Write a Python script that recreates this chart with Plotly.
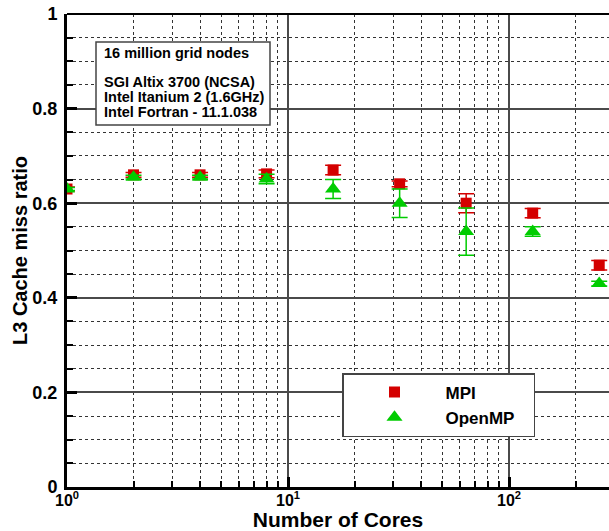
import plotly.graph_objects as go

# Core counts and measured L3 cache miss ratios
cores = [1, 2, 4, 8, 16, 32, 64, 128, 256]
mpi_ratio = [0.63, 0.66, 0.66, 0.662, 0.67, 0.641, 0.60, 0.579, 0.469]
mpi_err = [0.004, 0.005, 0.005, 0.008, 0.01, 0.006, 0.02, 0.01, 0.01]
omp_ratio = [0.63, 0.655, 0.655, 0.651, 0.63, 0.60, 0.54, 0.54, 0.43]
omp_err = [0.003, 0.004, 0.004, 0.01, 0.02, 0.03, 0.05, 0.01, 0.005]

x_tickvals = [1, 10, 100]
x_ticktext = ["10<sup>0</sup>", "10<sup>1</sup>", "10<sup>2</sup>"]
x_minor = [2, 3, 4, 5, 6, 7, 8, 9, 20, 30, 40, 50, 60, 70, 80, 90, 200]
y_tickvals = [0, 0.2, 0.4, 0.6, 0.8, 1]
y_ticktext = ["0", "0.2", "0.4", "0.6", "0.8", "1"]

info_lines = [
    "16 million grid nodes",
    "SGI Altix 3700 (NCSA)",
    "Intel Itanium 2 (1.6GHz)",
    "Intel Fortran - 11.1.038",
]

RED = "#d40000"
GREEN = "#00cc00"
FONT = "Liberation Sans, Arial, sans-serif"

W, H = 609, 531
ML, MT, MB, MR = 67, 14, 44, 0
PW, PH = W - ML - MR, H - MT - MB


def px_x(p):
    return (p - ML) / PW


def px_y(p):
    return (H - MB - p) / PH


fig = go.Figure()
fig.add_trace(go.Scatter(
    x=cores, y=mpi_ratio, mode="markers", name="MPI   ",
    marker=dict(symbol="square", size=11, color=RED),
    error_y=dict(type="data", array=mpi_err, color=RED, thickness=1.5, width=8),
))
fig.add_trace(go.Scatter(
    x=cores, y=omp_ratio, mode="markers", name="OpenMP   ",
    marker=dict(symbol="triangle-up", size=14, color=GREEN),
    error_y=dict(type="data", array=omp_err, color=GREEN, thickness=1.5, width=8),
))

fig.update_xaxes(
    type="log", range=[0, (W - MR - ML) / 221.0],
    tickvals=x_tickvals, ticktext=x_ticktext,
    ticks="inside", ticklen=10, tickwidth=3, tickcolor="black",
    showline=True, linecolor="black", linewidth=3,
    showgrid=True, gridcolor="#4a4a4a", gridwidth=1.5,
    minor=dict(tickvals=x_minor, ticks="inside", ticklen=6, tickwidth=1.5,
               tickcolor="black", showgrid=True, gridcolor="#333333",
               griddash="dot", gridwidth=1),
    tickfont=dict(family=FONT, size=16, color="black", weight="bold"),
    ticklabelstandoff=-3,
    title=dict(text="Number of Cores", standoff=6,
               font=dict(family=FONT, size=21, color="black", weight="bold")),
    zeroline=False,
)
fig.update_yaxes(
    range=[0, 1], tickvals=y_tickvals, ticktext=y_ticktext,
    ticks="inside", ticklen=10, tickwidth=3, tickcolor="black",
    showline=True, linecolor="black", linewidth=3,
    showgrid=True, gridcolor="#4a4a4a", gridwidth=1.5,
    minor=dict(dtick=0.05, ticks="inside", ticklen=6, tickwidth=1.5,
               tickcolor="black", showgrid=True, gridcolor="#333333",
               griddash="dot", gridwidth=1),
    tickfont=dict(family=FONT, size=18, color="black", weight="bold"),
    ticklabelstandoff=3,
    title=dict(text="L3 Cache miss ratio", standoff=0,
               font=dict(family=FONT, size=20, color="black", weight="bold")),
    zeroline=False,
)

# top frame line
fig.add_shape(type="line", xref="paper", yref="paper", x0=0, x1=1, y0=1, y1=1,
              line=dict(color="black", width=2))

# info box
fig.add_shape(type="rect", xref="paper", yref="paper",
              x0=px_x(96), x1=px_x(270), y0=px_y(125), y1=px_y(42),
              line=dict(color="#444444", width=1.5), fillcolor="white", layer="above")
for txt, ypx in zip(info_lines, [53, 82, 97, 112]):
    fig.add_annotation(text=txt, xref="paper", yref="paper", x=px_x(102), y=px_y(ypx),
                       xanchor="left", yanchor="middle", showarrow=False,
                       font=dict(family=FONT, size=14.5, color="black", weight="bold"))

fig.update_layout(
    width=W, height=H,
    margin=dict(l=ML, r=MR, t=MT, b=MB),
    paper_bgcolor="white", plot_bgcolor="white",
    legend=dict(
        x=px_x(342), y=px_y(373), xanchor="left", yanchor="top",
        bgcolor="white", bordercolor="#444444", borderwidth=1.5,
        itemwidth=92,
        font=dict(family=FONT, size=17, color="black", weight="bold"),
    ),
)

fig.write_html("out.html")
